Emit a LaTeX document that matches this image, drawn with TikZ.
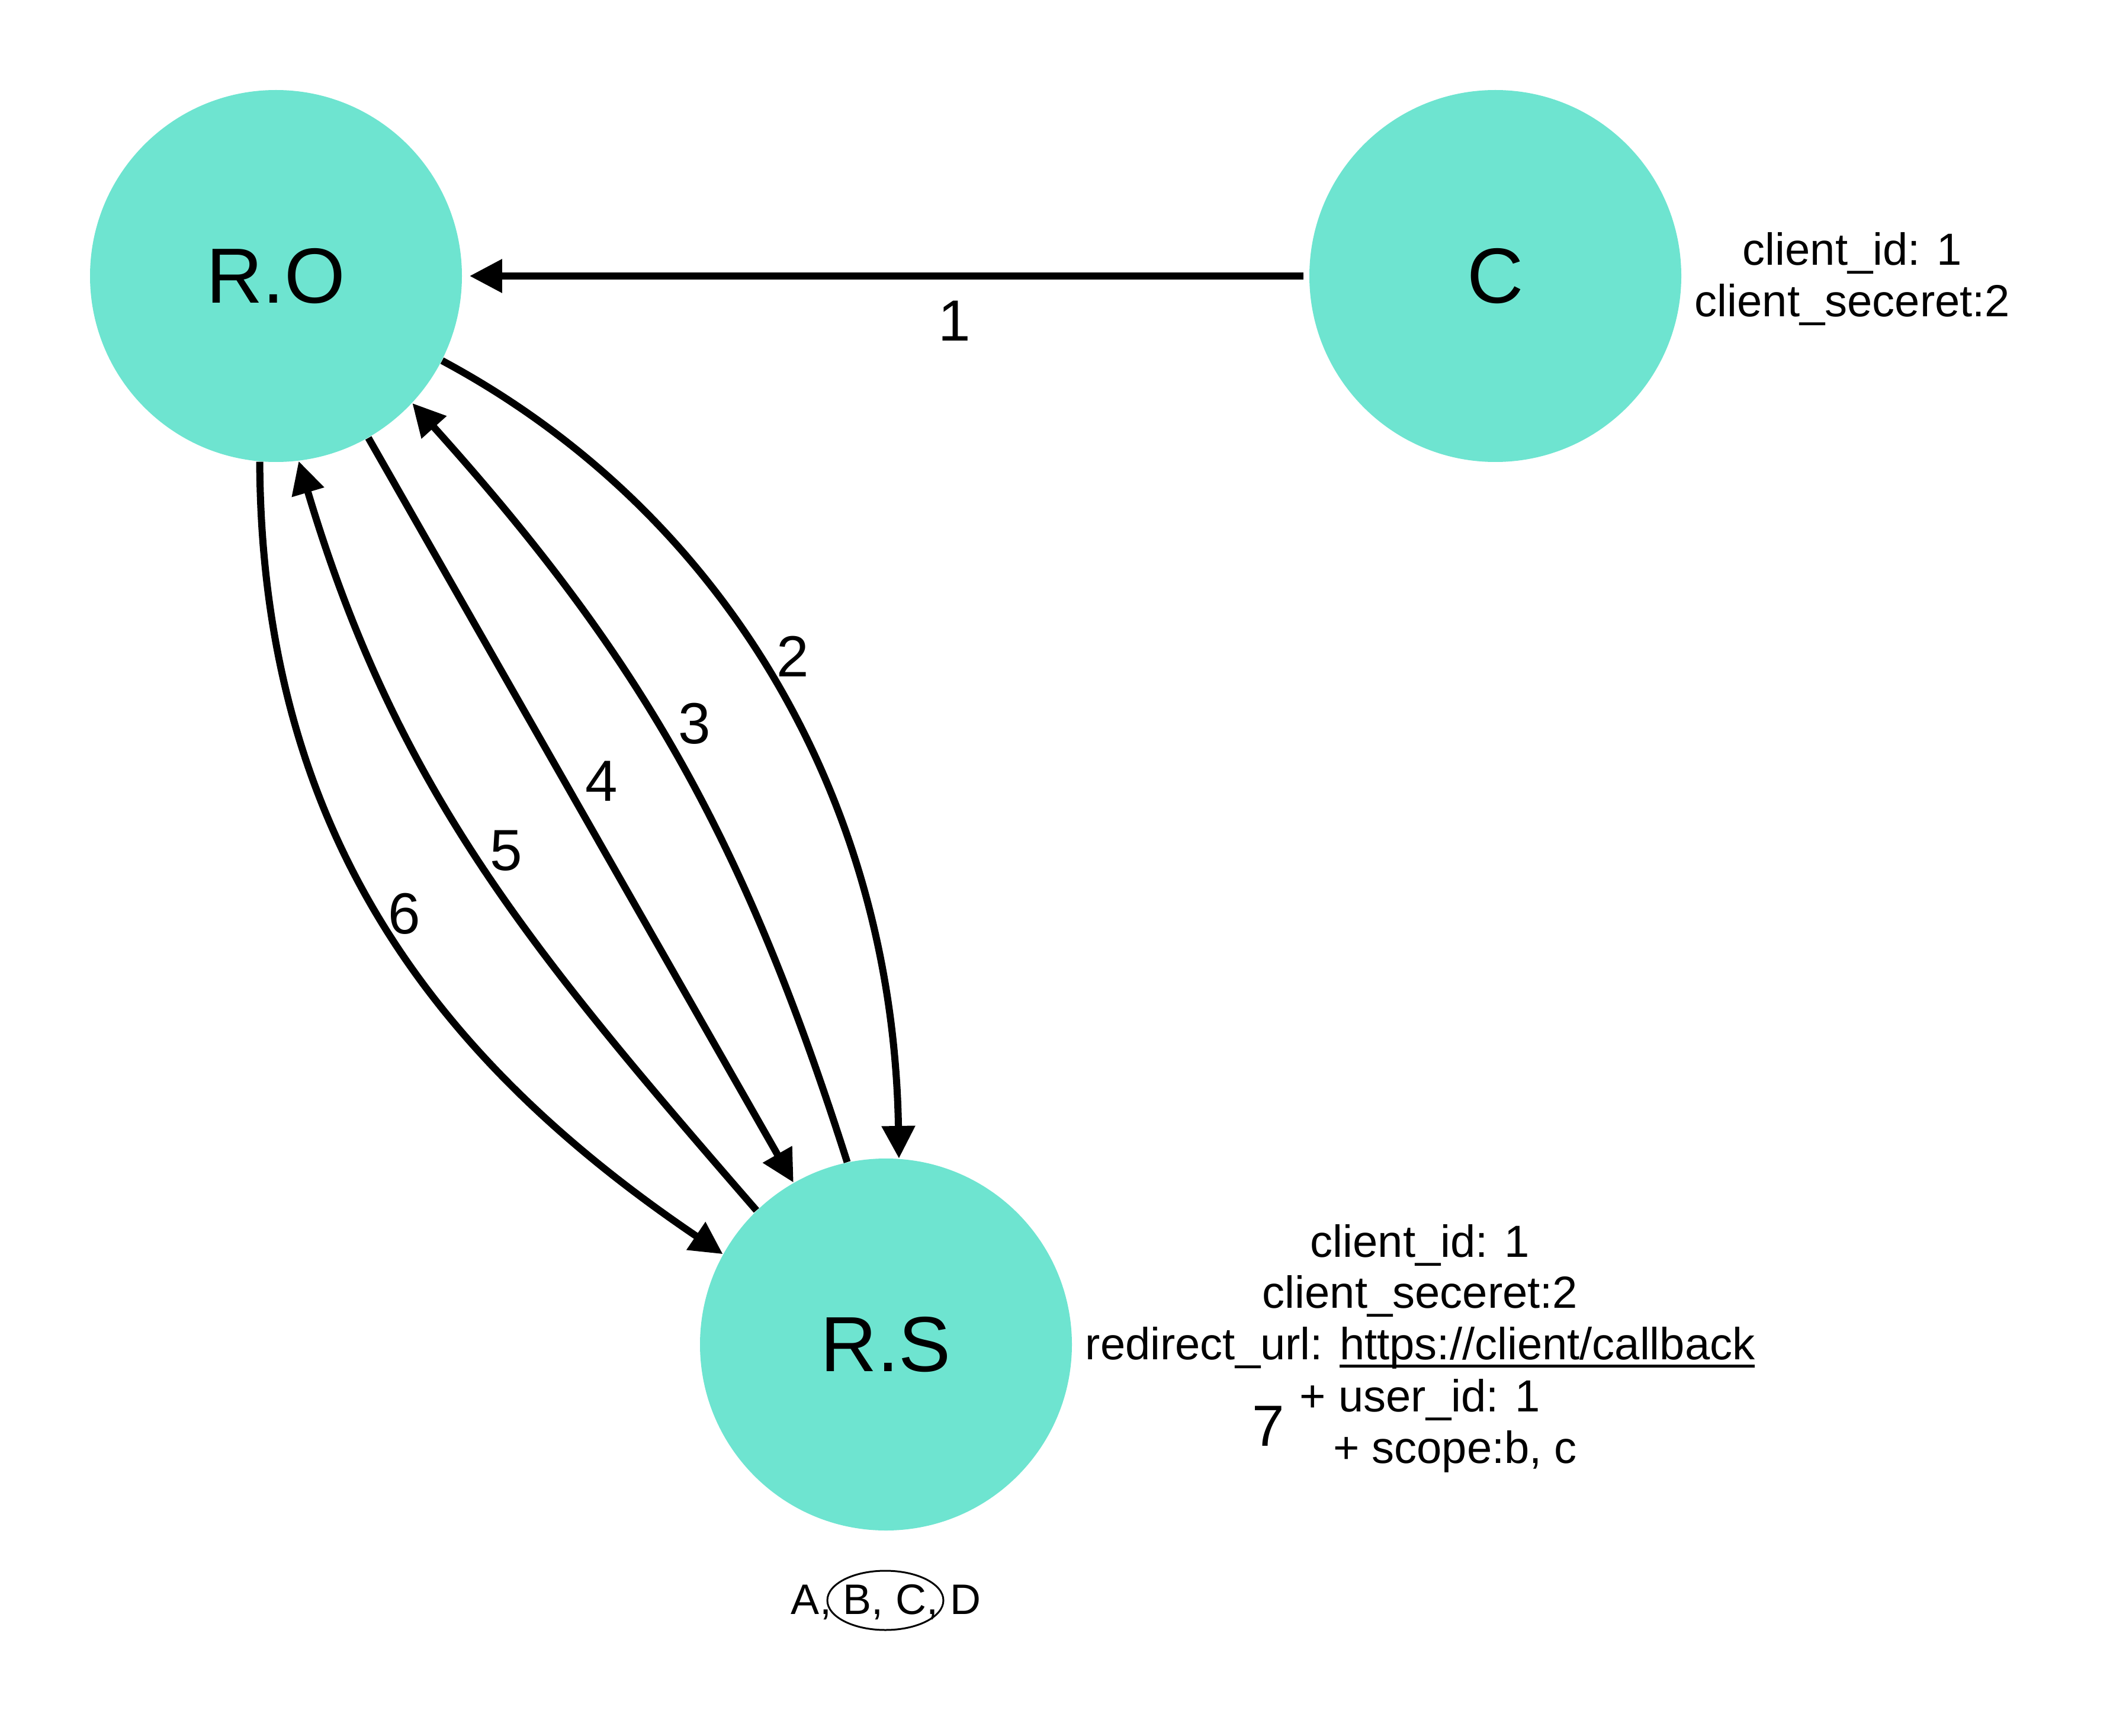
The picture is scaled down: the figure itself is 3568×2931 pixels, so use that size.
\documentclass[tikz,border=0pt]{standalone}
\usepackage{fontspec}
\setmainfont{Liberation Sans}
\usetikzlibrary{arrows.meta,shapes.geometric}
\definecolor{nodeteal}{RGB}{110,228,208}
\newcommand\urlline[1]{\setbox0\hbox{#1}\rlap{\rule[-3.6pt]{\wd0}{1.25pt}}\box0}
\begin{document}
\begin{tikzpicture}[x=0.25pt,y=-0.25pt,
  party/.style={circle, fill=nodeteal, minimum size=157pt, inner sep=0pt, font=\fontsize{33}{40}\selectfont},
  flow/.style={line width=3pt, -{Triangle[length=13.75pt,width=13.5pt]}},
  num/.style={font=\fontsize{24.5}{28}\selectfont, inner sep=0pt},
  info/.style={font=\fontsize{19}{22}\selectfont, inner sep=0pt, anchor=base},
]
\useasboundingbox (0,0) rectangle (3568,2931);
\node[party] (ro) at (466,466) {R.O};
\node[party] (c) at (2525,466) {C};
\node[party] (rs) at (1496,2270) {R.S};

% connectors
\draw[flow, shorten <=2.25pt, shorten >=3pt] (c) -- (ro);
\draw[flow] (ro.-27.8) .. controls +(476,255) and +(-10,-606) .. (rs.86.1);
\draw[flow] (rs.102.7) .. controls +(-175,-549) and +(385,428) .. (ro.-43.45);
\draw[flow] (ro) -- (rs);
\draw[flow] (rs.134.1) .. controls +(-380,-438) and +(166,556) .. (ro.-83.5);
\draw[flow] (ro.-95.6) .. controls +(3,607) and +(-503,-340) .. (rs.151.6);

% step numbers
\node[num] (l1) at (1612,542) {1};
\node[num] (l2) at (1339,1108) {2};
\node[num] (l3) at (1173,1222) {3};
\node[num] (l4) at (1016,1319) {4};
\node[num] (l5) at (855,1436) {5};
\node[num] (l6) at (683,1543) {6};
\node[num] (l7) at (2142,2408) {7};

% client info
\node[info] (cid) at (3128,448) {client\_id: 1};
\node[info] (csec) at (3128,535) {client\_seceret:2};

% server info
\node[info] (sid) at (2398,2122) {client\_id: 1};
\node[info] (ssec) at (2398,2208) {client\_seceret:2};
\node[info] (surl) at (2398,2295) {redirect\_url: \urlline{https://client/callback}};
\node[info] (suser) at (2398,2383) {+ user\_id: 1};
\node[info] (sscope) at (2457,2470) {+ scope:b, c};

% scopes
\node[font=\fontsize{18}{20}\selectfont, anchor=base, inner sep=0pt] (abcd) at (1496,2725) {A, B, C, D};
\node[draw, ellipse, line width=0.75pt, minimum width=49pt, minimum height=25pt, inner sep=0pt] (sel) at (1495,2702) {};
\end{tikzpicture}
\end{document}
